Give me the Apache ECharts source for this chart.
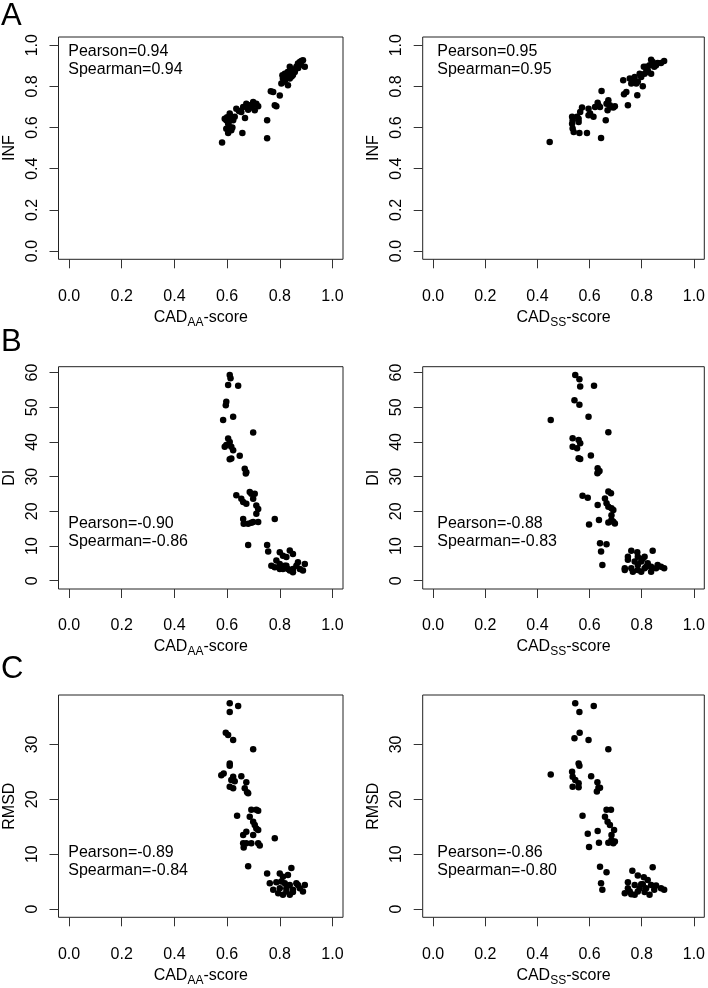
<!DOCTYPE html>
<html><head><meta charset="utf-8">
<script src="https://cdn.jsdelivr.net/npm/echarts@6/dist/echarts.min.js"></script>
<style>html,body{margin:0;padding:0;background:#fff}#c{width:708px;height:988px}</style>
</head><body><div id="c"></div>
<script>
// ---- Data ----
// Panel A (INF vs CAD_AA)
const aL_x = [0.581,0.591,0.597,0.604,0.610,0.616,0.604,0.597,0.623,0.610,0.616,0.600,0.607,0.613,0.620,0.629,0.635,0.654,0.668,0.661,0.673,0.680,0.686,0.692,0.699,0.705,0.711,0.718,0.690,0.700,0.645,0.658,0.752,0.752,0.766,0.775,0.800,0.781,0.787,0.806,0.810,0.812,0.815,0.819,0.825,0.831,0.838,0.844,0.850,0.857,0.863,0.869,0.876,0.882,0.888,0.895,0.838,0.820,0.850,0.870,0.830,0.860,0.880,0.845];
const aL_y = [0.528,0.643,0.635,0.619,0.603,0.587,0.574,0.594,0.635,0.668,0.652,0.650,0.630,0.640,0.600,0.652,0.692,0.676,0.647,0.700,0.716,0.687,0.703,0.697,0.724,0.684,0.716,0.703,0.710,0.712,0.680,0.574,0.548,0.635,0.776,0.773,0.756,0.708,0.703,0.814,0.854,0.838,0.822,0.862,0.846,0.806,0.895,0.862,0.878,0.870,0.895,0.911,0.919,0.924,0.927,0.895,0.838,0.830,0.855,0.890,0.870,0.885,0.905,0.848];
// Panel A (INF vs CAD_SS)
const aR_x = [0.447,0.533,0.535,0.533,0.535,0.539,0.558,0.558,0.564,0.552,0.571,0.561,0.590,0.596,0.602,0.596,0.615,0.621,0.631,0.640,0.646,0.644,0.662,0.665,0.672,0.678,0.684,0.669,0.691,0.697,0.634,0.729,0.732,0.741,0.747,0.760,0.766,0.773,0.783,0.785,0.792,0.798,0.804,0.808,0.811,0.817,0.823,0.830,0.836,0.842,0.848,0.855,0.861,0.874,0.886,0.779,0.754,0.836,0.817];
const aR_y = [0.530,0.652,0.635,0.619,0.595,0.579,0.643,0.627,0.676,0.652,0.697,0.574,0.574,0.692,0.668,0.660,0.652,0.700,0.720,0.700,0.778,0.549,0.635,0.716,0.733,0.708,0.700,0.684,0.697,0.703,0.708,0.830,0.762,0.773,0.708,0.814,0.830,0.846,0.757,0.822,0.862,0.846,0.801,0.895,0.862,0.870,0.878,0.903,0.930,0.919,0.895,0.903,0.914,0.914,0.924,0.814,0.838,0.862,0.895];
// Panel B (DI vs CAD_AA)
const bL_x = [0.610,0.613,0.604,0.642,0.597,0.595,0.585,0.623,0.699,0.597,0.610,0.616,0.604,0.591,0.623,0.616,0.610,0.648,0.667,0.673,0.671,0.635,0.654,0.661,0.686,0.692,0.699,0.705,0.673,0.711,0.718,0.711,0.661,0.663,0.680,0.692,0.699,0.718,0.781,0.680,0.752,0.756,0.800,0.812,0.838,0.850,0.825,0.768,0.781,0.787,0.800,0.812,0.825,0.838,0.850,0.863,0.876,0.895,0.888,0.869,0.850,0.800,0.831,0.819];
const bL_y = [59.3,58.4,56.4,56.2,51.6,50.6,46.3,47.3,42.7,39.1,40.0,38.6,41.0,38.6,37.6,35.2,35.0,36.0,32.3,31.3,30.9,24.6,23.6,22.7,25.6,25.1,23.6,25.1,22.2,21.7,20.7,19.3,17.8,16.4,16.4,16.7,16.9,16.9,17.8,10.3,10.3,8.4,8.2,7.2,8.7,7.7,6.8,4.3,3.9,5.8,4.8,3.4,4.3,2.9,3.4,4.3,3.4,4.8,2.9,5.3,2.4,3.4,3.4,4.3];
// Panel B (DI vs CAD_SS)
const bR_x = [0.545,0.561,0.564,0.617,0.542,0.561,0.596,0.451,0.672,0.535,0.558,0.564,0.535,0.552,0.558,0.564,0.605,0.631,0.634,0.630,0.638,0.672,0.682,0.573,0.593,0.659,0.665,0.672,0.684,0.691,0.631,0.684,0.684,0.672,0.691,0.697,0.636,0.598,0.640,0.665,0.644,0.649,0.760,0.783,0.842,0.747,0.785,0.811,0.747,0.773,0.798,0.823,0.735,0.760,0.785,0.811,0.836,0.861,0.886,0.766,0.798,0.836,0.855,0.874,0.735,0.785,0.817,0.804];
const bR_y = [59.3,58.1,56.0,56.2,52.0,50.7,47.3,46.3,42.8,41.1,40.6,39.6,38.6,38.2,35.3,35.1,36.1,32.4,31.4,31.0,31.6,25.7,25.2,24.5,23.9,23.7,22.3,21.3,20.9,20.4,21.8,18.9,17.5,16.8,17.0,16.5,17.5,16.2,10.8,10.5,8.4,4.5,8.6,8.2,8.6,6.9,6.9,6.9,6.0,5.5,5.5,5.0,3.6,3.6,4.5,3.6,4.0,4.5,3.6,2.6,2.6,2.6,3.6,4.0,3.1,3.1,4.0,6.3];
// Panel C (RMSD vs CAD_AA)
const cL_x = [0.610,0.610,0.642,0.595,0.604,0.623,0.699,0.610,0.610,0.587,0.578,0.623,0.616,0.654,0.629,0.610,0.623,0.673,0.667,0.676,0.680,0.692,0.711,0.718,0.638,0.686,0.699,0.705,0.711,0.718,0.673,0.661,0.699,0.781,0.661,0.673,0.692,0.718,0.724,0.663,0.680,0.752,0.800,0.844,0.831,0.812,0.762,0.787,0.806,0.819,0.838,0.863,0.895,0.775,0.800,0.825,0.850,0.876,0.888,0.812,0.838,0.850,0.825,0.794,0.869];
const cL_y = [37.5,35.9,37.0,32.1,31.7,30.8,29.1,26.5,26.1,24.7,24.4,24.1,23.5,24.2,23.3,22.3,22.0,23.1,22.0,21.3,21.1,18.1,18.1,17.9,17.0,16.8,15.9,15.3,14.7,14.4,14.1,13.5,13.5,12.9,12.0,12.0,12.0,12.0,11.6,11.2,7.8,6.5,6.5,7.5,6.2,5.9,4.7,4.9,5.0,4.7,4.4,4.7,4.4,3.5,3.8,3.8,3.5,3.8,3.2,2.6,2.6,3.1,3.2,2.9,4.4];
// Panel C (RMSD vs CAD_SS)
const cR_x = [0.545,0.561,0.616,0.562,0.542,0.596,0.672,0.451,0.558,0.561,0.533,0.535,0.545,0.558,0.606,0.535,0.558,0.630,0.634,0.628,0.640,0.665,0.682,0.659,0.669,0.678,0.694,0.684,0.573,0.593,0.631,0.684,0.691,0.697,0.672,0.636,0.598,0.640,0.665,0.644,0.649,0.764,0.842,0.785,0.808,0.823,0.747,0.773,0.798,0.836,0.855,0.874,0.886,0.735,0.760,0.785,0.811,0.830,0.773,0.792,0.817,0.747,0.848,0.804,0.754];
const cR_y = [37.5,35.9,37.0,32.1,31.1,30.8,29.1,24.5,26.5,26.1,25.0,24.1,23.5,22.9,24.2,22.3,22.2,23.1,22.1,21.4,22.1,18.1,18.1,16.8,15.9,15.3,14.4,13.5,17.0,13.7,14.2,12.6,12.0,12.3,12.1,12.1,11.3,7.7,6.7,4.7,3.5,7.0,7.6,6.1,5.8,5.3,4.9,4.4,4.5,4.4,4.3,3.8,3.5,2.9,2.7,3.2,3.1,2.6,2.6,3.8,3.8,3.8,3.5,4.5,3.2];

// Tick values / labels
const xTicks = [0, 0.2, 0.4, 0.6, 0.8, 1.0];
const infTicks = [0, 0.2, 0.4, 0.6, 0.8, 1.0];
const diTicks = [0, 10, 20, 30, 40, 50, 60];
const rmsdTicks = [0, 10, 20, 30];
const corrText = [
  ['Pearson=0.94', 'Spearman=0.94'],
  ['Pearson=0.95', 'Spearman=0.95'],
  ['Pearson=-0.90', 'Spearman=-0.86'],
  ['Pearson=-0.88', 'Spearman=-0.83'],
  ['Pearson=-0.89', 'Spearman=-0.84'],
  ['Pearson=-0.86', 'Spearman=-0.80']
];
const panelLetters = ['A', 'B', 'C'];

// ---- Layout ----
const FONT = 'Liberation Sans, Arial, Helvetica, sans-serif';
const colLeft = [58.5, 422.7];
const W = 284.5;
const rowTop = [37, 366.7, 695];
const H = 222.3;
const yRanges = [[-0.04, 1.04], [-2.4, 61.7], [-1.5, 39]];
const yTickSets = [infTicks, diTicks, rmsdTicks];
const yNames = ['INF', 'DI', 'RMSD'];
const yFmt = [v => v.toFixed(1), v => String(v), v => String(v)];
const xNames = ['CAD{s|AA}-score', 'CAD{s|SS}-score'];
const datasets = [[aL_x, aL_y], [aR_x, aR_y], [bL_x, bL_y], [bR_x, bR_y], [cL_x, cL_y], [cR_x, cR_y]];

const grids = [], xAxes = [], yAxes = [], series = [], titles = [];
const ink = '#000';
for (let r = 0; r < 3; r++) {
  for (let c = 0; c < 2; c++) {
    const i = r * 2 + c;
    grids.push({ left: colLeft[c], top: rowTop[r], width: W, height: H, show: true,
      borderColor: '#222', borderWidth: 1, backgroundColor: 'transparent', containLabel: false });
    xAxes.push({ gridIndex: i, type: 'value', min: -0.04, max: 1.04,
      axisLine: { show: false, onZero: false },
      axisTick: { show: true, length: 9, customValues: xTicks, lineStyle: { color: '#333', width: 1 } },
      axisLabel: { customValues: xTicks, formatter: v => v.toFixed(1), color: ink, fontSize: 16, fontFamily: FONT, margin: 29 },
      splitLine: { show: false },
      name: xNames[c], nameLocation: 'middle', nameGap: 47,
      nameTextStyle: { color: ink, fontSize: 16, fontFamily: FONT,
        rich: { s: { fontSize: 12, fontFamily: FONT, color: ink, padding: [10, 0, 0, 0] } } }
    });
    const yt = yTickSets[r];
    yAxes.push({ gridIndex: i, type: 'value', min: yRanges[r][0], max: yRanges[r][1],
      axisLine: { show: false, onZero: false },
      axisTick: { show: true, length: 9, customValues: yt, lineStyle: { color: '#333', width: 1 } },
      axisLabel: { customValues: yt, formatter: yFmt[r], rotate: 90, color: ink, fontSize: 16, fontFamily: FONT, margin: 18 },
      splitLine: { show: false },
      name: yNames[r], nameLocation: 'middle', nameGap: 41, nameRotate: 90,
      nameTextStyle: { color: ink, fontSize: 16, fontFamily: FONT }
    });
    const d = datasets[i];
    series.push({ type: 'scatter', xAxisIndex: i, yAxisIndex: i, symbol: 'circle', symbolSize: 6.5,
      itemStyle: { color: '#000', opacity: 1 }, silent: true,
      data: d[0].map((x, k) => [x, d[1][k]]) });
    const textTop = [42, 514, 843][r];
    titles.push({ text: corrText[i].join('\n'), left: colLeft[c] + [9.8, 14.6][c], top: textTop,
      textStyle: { color: ink, fontSize: 16, fontWeight: 'normal', fontFamily: FONT, lineHeight: 18.5 }, padding: 0 });
  }
  titles.push({ text: panelLetters[r], left: 1, top: [1, 327, 654][r], padding: 0,
    textStyle: { color: ink, fontSize: 31, fontWeight: 'normal', fontFamily: FONT } });
}

const chart = echarts.init(document.getElementById('c'), null, { renderer: 'canvas' });
chart.setOption({ animation: false, backgroundColor: '#fff', title: titles, grid: grids, xAxis: xAxes, yAxis: yAxes, series: series });
</script>
</body></html>
